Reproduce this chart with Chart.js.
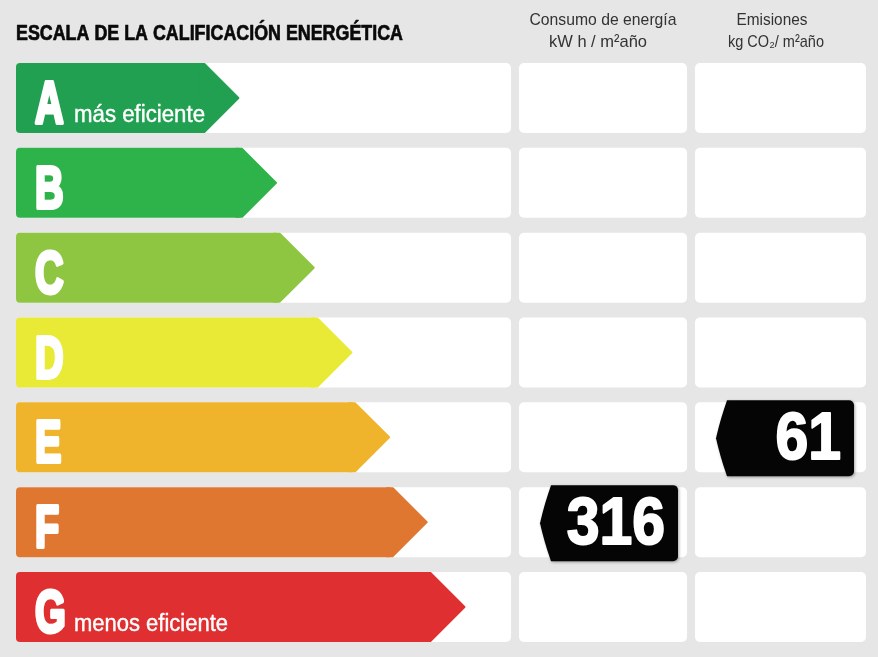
<!DOCTYPE html>
<html>
<head>
<meta charset="utf-8">
<script src="https://cdn.jsdelivr.net/npm/chart.js@4.4.1/dist/chart.umd.min.js"></script>
<style>
  html, body { margin: 0; padding: 0; background: #e6e6e6; }
  canvas { display: block; }
</style>
</head>
<body>
<canvas id="escala" width="878" height="657"></canvas>
<script>
// datos de la etiqueta
const clases = ['A', 'B', 'C', 'D', 'E', 'F', 'G'];
const longitudes = [5, 6, 7, 8, 9, 10, 11];
const subtitulos = ['más eficiente', '', '', '', '', '', 'menos eficiente'];
const consumoClase = 'F';
const consumoValor = 316;
const emisionesClase = 'E';
const emisionesValor = 61;

const titulo = 'ESCALA DE LA CALIFICACIÓN ENERGÉTICA';
const cabConsumo = ['Consumo de energía', 'kW h / m²año'];
const cabEmisiones = ['Emisiones', 'kg CO₂/ m²año'];

// colores de cada clase
const colores = ['#21a052', '#2db34a', '#8fc641', '#e8ea36', '#efb42b', '#e07731', '#df2f30'];

// columnas (izquierda, centro, derecha)
const columnas = [[16, 511], [519, 687], [695, 866]];
const punta = 35;

function panel(ctx, x1, y1, x2, y2, r) {
  ctx.beginPath();
  ctx.moveTo(x1 + r, y1);
  ctx.arcTo(x2, y1, x2, y2, r);
  ctx.arcTo(x2, y2, x1, y2, r);
  ctx.arcTo(x1, y2, x1, y1, r);
  ctx.arcTo(x1, y1, x2, y1, r);
  ctx.closePath();
  ctx.fill();
}

// texto ajustado a un ancho dado (fuentes condensadas)
function texto(ctx, txt, x, y, font, ancho, align, grosor) {
  ctx.font = font;
  const w = ctx.measureText(txt).width;
  ctx.save();
  ctx.translate(x, y);
  ctx.scale(ancho / w, 1);
  ctx.textAlign = align;
  ctx.textBaseline = 'alphabetic';
  ctx.fillText(txt, 0, 0);
  if (grosor) {
    ctx.strokeStyle = ctx.fillStyle;
    ctx.lineWidth = grosor;
    ctx.lineJoin = 'round';
    ctx.strokeText(txt, 0, 0);
  }
  ctx.restore();
}

function textoEscalado(ctx, txt, x, y, font, sx, align, grosor) {
  ctx.save();
  ctx.font = font;
  ctx.translate(x, y);
  ctx.scale(sx, 1);
  ctx.textAlign = align;
  ctx.textBaseline = 'alphabetic';
  ctx.fillText(txt, 0, 0);
  if (grosor) {
    ctx.strokeStyle = ctx.fillStyle;
    ctx.lineWidth = grosor;
    ctx.lineJoin = 'round';
    ctx.strokeText(txt, 0, 0);
  }
  ctx.restore();
}

function etiqueta(ctx, derecha, centro, valor) {
  const alto = 76, ancho = 127, r = 5;
  const L = derecha - ancho, T = centro - alto / 2, B = centro + alto / 2;
  ctx.save();
  ctx.shadowColor = 'rgba(0,0,0,0.35)';
  ctx.shadowBlur = 3;
  ctx.shadowOffsetX = 1;
  ctx.shadowOffsetY = 1;
  ctx.fillStyle = '#050505';
  ctx.beginPath();
  ctx.moveTo(L, T);
  ctx.lineTo(derecha - r, T);
  ctx.arcTo(derecha, T, derecha, T + r, r);
  ctx.lineTo(derecha, B - r);
  ctx.arcTo(derecha, B, derecha - r, B, r);
  ctx.lineTo(L, B);
  ctx.quadraticCurveTo(L - 7, B - 20, L - 11, centro);
  ctx.quadraticCurveTo(L - 7, T + 20, L, T);
  ctx.closePath();
  ctx.fill();
  ctx.restore();
  ctx.fillStyle = '#ffffff';
  textoEscalado(ctx, String(valor), derecha - 13, centro + 21, 'bold 67px "Liberation Sans", Arial, sans-serif', 0.88, 'right', 2);
}

const etiquetaPlugin = {
  id: 'etiquetaPlugin',
  beforeDatasetsDraw(chart) {
    const ctx = chart.ctx;
    const meta = chart.getDatasetMeta(0);
    ctx.save();
    ctx.fillStyle = '#ffffff';
    meta.data.forEach(function(bar) {
      const t = bar.y - bar.height / 2, b = bar.y + bar.height / 2;
      columnas.forEach(function(c) { panel(ctx, c[0], t, c[1], b, 5); });
    });
    ctx.restore();
  },
  afterDatasetsDraw(chart) {
    const ctx = chart.ctx;
    const meta = chart.getDatasetMeta(0);
    const yScale = chart.scales.y;
    ctx.save();
    meta.data.forEach(function(bar, i) {
      const t = bar.y - bar.height / 2, b = bar.y + bar.height / 2;
      // punta de la flecha
      ctx.fillStyle = colores[i];
      ctx.strokeStyle = colores[i];
      ctx.lineWidth = 2;
      ctx.lineJoin = 'round';
      ctx.beginPath();
      ctx.moveTo(bar.x - 6, t + 1);
      ctx.lineTo(bar.x, t + 1);
      ctx.lineTo(bar.x + punta - 1, bar.y);
      ctx.lineTo(bar.x, b - 1);
      ctx.lineTo(bar.x - 6, b - 1);
      ctx.closePath();
      ctx.fill();
      ctx.stroke();
      // letra
      ctx.fillStyle = '#ffffff';
      textoEscalado(ctx, clases[i], 35, t + 60, 'bold 60px "Liberation Sans", Arial, sans-serif', 0.66, 'left', 4);
      if (subtitulos[i]) {
        const anchoSub = i === 0 ? 131 : 154;
        texto(ctx, subtitulos[i], 74, t + 59, '23px "Liberation Sans", Arial, sans-serif', anchoSub, 'left', 0.4);
      }
    });

    // etiquetas de consumo y emisiones
    etiqueta(ctx, columnas[1][1] - 9, yScale.getPixelForValue(clases.indexOf(consumoClase)) + 1, consumoValor);
    etiqueta(ctx, columnas[2][1] - 12, yScale.getPixelForValue(clases.indexOf(emisionesClase)) + 1, emisionesValor);

    // titulo y cabeceras
    ctx.fillStyle = '#0a0a0a';
    texto(ctx, titulo, 16, 40, 'bold 22px "Liberation Sans", Arial, sans-serif', 387, 'left', 0.7);
    ctx.fillStyle = '#333333';
    const fCab = '17px "Liberation Sans Narrow", "Liberation Sans", Arial, sans-serif';
    texto(ctx, cabConsumo[0], 603, 25, fCab, 147, 'center');
    texto(ctx, cabConsumo[1], 598, 47, fCab, 98, 'center');
    texto(ctx, cabEmisiones[0], 772, 25, fCab, 71, 'center');
    texto(ctx, cabEmisiones[1], 776, 47, fCab, 96, 'center');
    ctx.restore();
  }
};

const elChart = document.getElementById('escala').getContext('2d');
const escala = new Chart(elChart, {
  type: 'bar',
  data: {
    labels: clases,
    datasets: [{
      data: longitudes,
      backgroundColor: colores,
      borderWidth: 0,
      borderSkipped: false,
      borderRadius: 4,
      categoryPercentage: 1,
      barPercentage: 0.825
    }]
  },
  options: {
    indexAxis: 'y',
    responsive: false,
    animation: false,
    events: [],
    layout: { padding: { left: 16, right: 12, top: 55.6, bottom: 7.6 } },
    scales: {
      x: { display: false, min: 0, max: 22.56 },
      y: { display: false }
    },
    plugins: {
      legend: { display: false },
      tooltip: { enabled: false },
      title: { display: false }
    }
  },
  plugins: [etiquetaPlugin]
});
</script>
</body>
</html>
